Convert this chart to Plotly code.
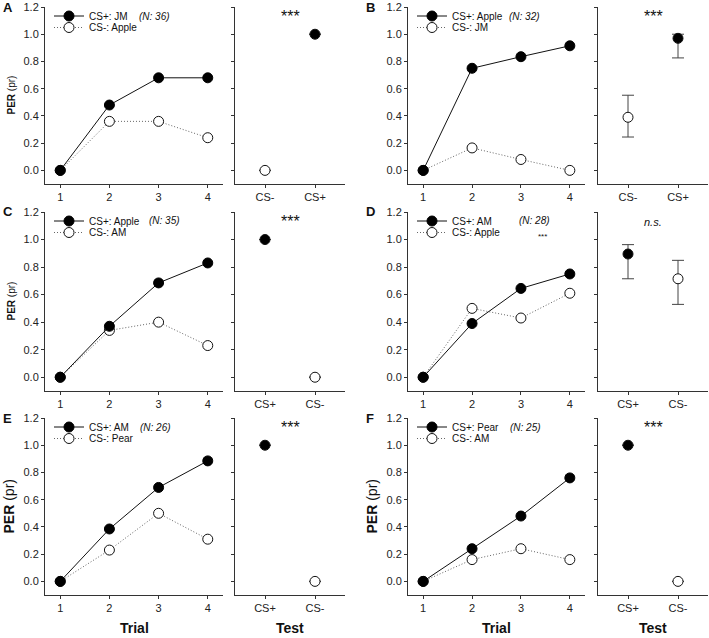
import plotly.graph_objects as go

W, H = 709, 638

trials = [1, 2, 3, 4]

# trial curves (PER proportion), CS+ and CS-
a_plus = [0.0, 0.48, 0.68, 0.68]
a_minus = [0.0, 0.36, 0.36, 0.24]
b_plus = [0.0, 0.75, 0.835, 0.915]
b_minus = [0.0, 0.165, 0.08, 0.0]
c_plus = [0.0, 0.37, 0.685, 0.83]
c_minus = [0.0, 0.34, 0.40, 0.23]
d_plus = [0.0, 0.39, 0.645, 0.75]
d_minus = [0.0, 0.50, 0.43, 0.61]
e_plus = [0.0, 0.385, 0.69, 0.885]
e_minus = [0.0, 0.23, 0.50, 0.31]
f_plus = [0.0, 0.24, 0.48, 0.76]
f_minus = [0.0, 0.16, 0.24, 0.16]

# legend labels and group sizes
a_labels = ["CS+: JM", "CS-: Apple"]
b_labels = ["CS+: Apple", "CS-: JM"]
c_labels = ["CS+: Apple", "CS-: AM"]
d_labels = ["CS+: AM", "CS-: Apple"]
e_labels = ["CS+: AM", "CS-: Pear"]
f_labels = ["CS+: Pear", "CS-: AM"]
n_text = ["(N: 36)", "(N: 32)", "(N: 35)", "(N: 28)", "(N: 26)", "(N: 25)"]

# test: [CS+, CS-] values with lower/upper interval
a_order = ["CS-", "CS+"]
a_test = [1.0, 0.0]
a_lo = [1.0, 0.0]
a_hi = [1.0, 0.0]
b_order = ["CS-", "CS+"]
b_test = [0.97, 0.39]
b_lo = [0.826, 0.245]
b_hi = [1.0, 0.552]
c_order = ["CS+", "CS-"]
c_test = [1.0, 0.0]
c_lo = [1.0, 0.0]
c_hi = [1.0, 0.0]
d_order = ["CS+", "CS-"]
d_test = [0.895, 0.715]
d_lo = [0.715, 0.529]
d_hi = [0.963, 0.849]
e_order = ["CS+", "CS-"]
e_test = [1.0, 0.0]
e_lo = [1.0, 0.0]
e_hi = [1.0, 0.0]
f_order = ["CS+", "CS-"]
f_test = [1.0, 0.0]
f_lo = [1.0, 0.0]
f_hi = [1.0, 0.0]

sig = ["***", "***", "***", "<i>n.s.</i>", "***", "***"]
tags = ["A", "B", "C", "D", "E", "F"]

panels = [
    (a_plus, a_minus, a_labels, a_order, a_test, a_lo, a_hi),
    (b_plus, b_minus, b_labels, b_order, b_test, b_lo, b_hi),
    (c_plus, c_minus, c_labels, c_order, c_test, c_lo, c_hi),
    (d_plus, d_minus, d_labels, d_order, d_test, d_lo, d_hi),
    (e_plus, e_minus, e_labels, e_order, e_test, e_lo, e_hi),
    (f_plus, f_minus, f_labels, f_order, f_test, f_lo, f_hi),
]

# pixel layout of the panels
col_x = [(45, 223, 235, 345), (408, 585, 598, 708)]
row_y = [(7, 184), (212, 391), (418, 595)]
n_dx = [92, 99, 102, 109, 93, 100]

FONT = "Arial, Liberation Sans, sans-serif"


def px(x):
    return x / W


def py(y):
    return 1 - y / H


axis_style = dict(showline=True, linecolor="#333", linewidth=1, ticks="outside",
                  ticklen=3, tickwidth=1, tickcolor="#333", showgrid=False,
                  zeroline=False, automargin=False,
                  tickfont=dict(size=11, color="#222"))


def note(text, x, y, size, **kw):
    d = dict(text=text, x=x, y=y, xref="paper", yref="paper", xanchor="center",
             yanchor="middle", showarrow=False, font=dict(size=size, color="#111"))
    d.update(kw)
    return d


fig = go.Figure()
layout = dict()
annotations = []

for i, (plus, minus, labels, order, test, lo, hi) in enumerate(panels):
    r, c = i // 2, i % 2
    x0, x1, t0, t1 = col_x[c]
    top, bot = row_y[r]
    ta, tb = 2 * i + 1, 2 * i + 2
    xa, ya = "x%d" % ta, "y%d" % ta
    xb, yb = "x%d" % tb, "y%d" % tb
    lg1 = "legend" if i == 0 else "legend%d" % (2 * i + 1)
    lg2 = "legend%d" % (2 * i + 2)

    fig.add_trace(go.Scatter(x=trials, y=minus, xaxis=xa, yaxis=ya, name=labels[1],
                             mode="lines+markers", legend=lg2,
                             line=dict(color="#666", width=1, dash="1px,2px"),
                             marker=dict(size=10, color="white",
                                         line=dict(color="#111", width=1))))
    fig.add_trace(go.Scatter(x=trials, y=plus, xaxis=xa, yaxis=ya, name=labels[0],
                             mode="lines+markers", legend=lg1,
                             line=dict(color="#111", width=1),
                             marker=dict(size=10, color="#000",
                                         line=dict(color="#000", width=1))))
    # test panel: CS+ filled, CS- open
    for k, (lab, fill) in enumerate([("CS+", "#000"), ("CS-", "white")]):
        fig.add_trace(go.Scatter(x=[lab], y=[test[k]], xaxis=xb, yaxis=yb,
                                 mode="markers", showlegend=False,
                                 error_y=dict(type="data", symmetric=False,
                                              array=[hi[k] - test[k]],
                                              arrayminus=[test[k] - lo[k]],
                                              color="#444", thickness=1, width=6),
                                 marker=dict(size=10, color=fill,
                                             line=dict(color="#111", width=1))))

    ydom = [py(bot), py(top)]
    layout["xaxis%d" % ta] = dict(axis_style, domain=[px(x0), px(x1)], anchor=ya,
                                  range=[0.69, 4.31], tickvals=trials)
    layout["yaxis%d" % ta] = dict(axis_style, domain=ydom, anchor=xa,
                                  range=[-0.1, 1.2], dtick=0.2, tick0=0,
                                  tickformat=".1f")
    layout["xaxis%d" % tb] = dict(axis_style, domain=[px(t0), px(t1)], anchor=yb,
                                  type="category", categoryorder="array",
                                  categoryarray=order, range=[-0.6, 1.6])
    layout["yaxis%d" % tb] = dict(axis_style, domain=ydom, anchor=xb,
                                  range=[-0.1, 1.2], dtick=0.2, tick0=0,
                                  showticklabels=False)

    for lg, dy in [(lg1, 9), (lg2, 20.5)]:
        layout[lg] = dict(x=px(x0 + 4), y=py(top + dy), xanchor="left",
                          yanchor="middle", bgcolor="rgba(0,0,0,0)",
                          font=dict(size=10, color="#111"), itemwidth=30,
                          tracegroupgap=0)

    annotations.append(note("<b>%s</b>" % tags[i], px(x0 - 44), py(top), 13,
                            xanchor="left"))
    annotations.append(note("<i>%s</i>" % n_text[i], px(x0 + n_dx[i]), py(top + 9),
                            10, xanchor="left"))
    annotations.append(note(sig[i], 0.5, 1.13, 16 if sig[i] == "***" else 11,
                            xref=xb, yref=yb))
    if c == 0 or r == 2:
        big = r == 2
        annotations.append(note("<b>PER</b> (pr)", px(x0 - (37 if big else 34)),
                                py((top + bot) / 2), 14 if big else 10,
                                textangle=-90))
    if r == 2:
        annotations.append(note("<b>Trial</b>", px((x0 + x1) / 2), py(628), 14))
        annotations.append(note("<b>Test</b>", px((t0 + t1) / 2), py(628), 14))

# small asterisks inside panel D trial plot
annotations.append(note("***", 3.45, 1.02, 8, xref="x7", yref="y7"))

fig.update_layout(**layout)
fig.update_layout(width=W, height=H, margin=dict(l=0, r=0, t=0, b=0),
                  paper_bgcolor="white", plot_bgcolor="white",
                  font=dict(family=FONT, color="#111"),
                  annotations=annotations)

# page body margin would shift the chart by 8px inside the window
fig.write_html("out.html", config={"displayModeBar": False},
               post_script="document.body.style.margin='0px';")
